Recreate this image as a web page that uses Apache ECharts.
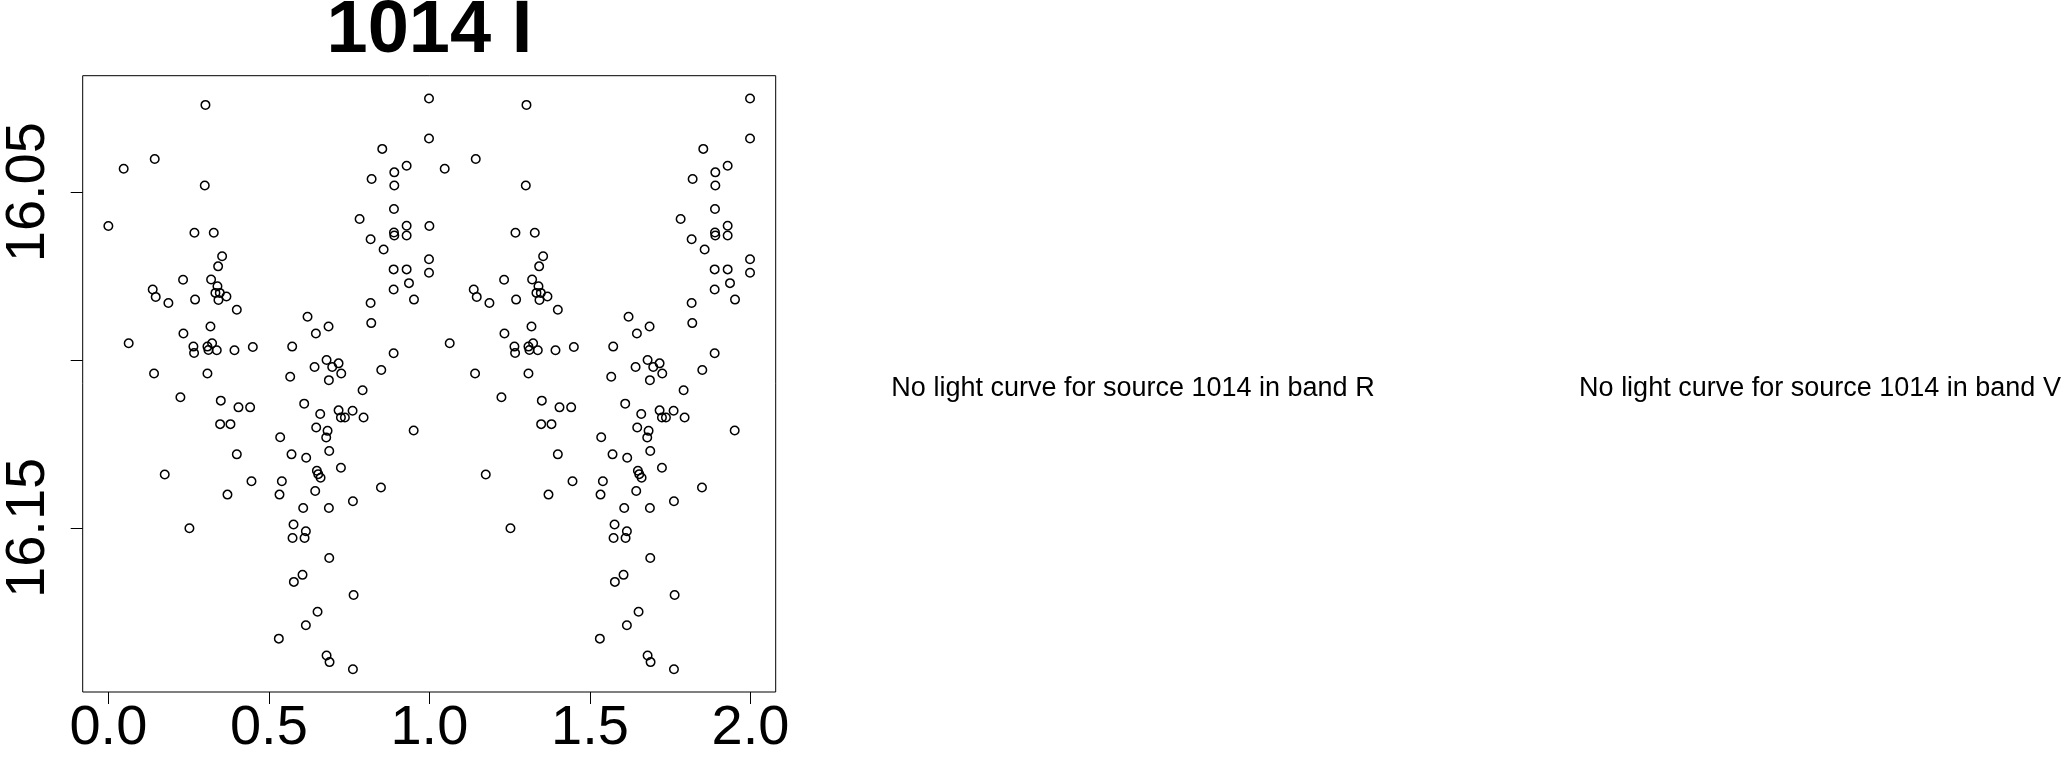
<!DOCTYPE html>
<html><head><meta charset="utf-8">
<script src="https://cdn.jsdelivr.net/npm/echarts@6/dist/echarts.min.js"></script>
<style>html,body{margin:0;padding:0;background:#fff}#c{width:2065px;height:757px}</style>
</head><body><div id="c"></div>
<script>
const titleText = '1014 I';
const noCurveR = 'No light curve for source 1014 in band R';
const noCurveV = 'No light curve for source 1014 in band V';

// phase (0..1) and magnitude of each observation; plotted at phase and phase+1
const phase = [
  0.3024, 0.1444, 0.0477, 0.3003, 0.0000, 0.2681, 0.3283, 0.3543, 0.3419, 0.2327,
  0.3200, 0.1381, 0.1475, 0.3398, 0.3335, 0.3471, 0.3678, 0.3429, 0.1870, 0.2701,
  0.4001, 0.3180, 0.2338, 0.0633, 0.2649, 0.3086, 0.3231, 0.2670, 0.3117, 0.3377,
  0.3928, 0.4500, 0.1423, 0.3086,
  0.2244, 0.3502, 0.4053, 0.4416, 0.3481, 0.3803, 0.4001, 0.1756, 0.4458, 0.3710, 0.2525,
  0.9988, 0.9988, 0.8532, 0.9291, 0.8907, 0.8200, 0.8907, 0.8896, 0.7826, 0.9291,
  0.8896, 0.8907, 0.9291, 0.8169, 0.8574, 0.9988, 0.8886, 0.9291, 0.9988, 0.9364,
  0.8886, 0.9520, 0.8169, 0.6204, 0.6859, 0.6464, 0.8189, 0.5726, 0.8886, 0.6797,
  0.6423, 0.6973, 0.7171, 0.7254, 0.5664, 0.8501, 0.6869, 0.7919,
  0.6100, 0.6599, 0.7171, 0.7607, 0.7244, 0.7368, 0.7950, 0.6474, 0.6828, 0.6786,
  0.5352, 0.9510, 0.6880, 0.5705, 0.6162, 0.7244, 0.6495, 0.6537, 0.6610, 0.5404,
  0.5331, 0.6443, 0.8491, 0.7618, 0.6069, 0.6869, 0.5768, 0.6152, 0.5737, 0.6111,
  0.6880, 0.6048, 0.5778, 0.7639, 0.6516, 0.6152, 0.5310, 0.6797, 0.6890, 0.7618
];
const mag = [
  16.0240, 16.0401, 16.0430, 16.0480, 16.0601, 16.0621, 16.0621, 16.0691, 16.0721, 16.0761,
  16.0760, 16.0790, 16.0812, 16.0780, 16.0800, 16.0800, 16.0811, 16.0821, 16.0830, 16.0820,
  16.0850, 16.0900, 16.0921, 16.0950, 16.0960, 16.0960, 16.0950, 16.0979, 16.0970, 16.0971,
  16.0971, 16.0961, 16.1040, 16.1040,
  16.1111, 16.1121, 16.1141, 16.1141, 16.1191, 16.1191, 16.1281, 16.1341, 16.1361, 16.1401, 16.1501,
  16.0221, 16.0340, 16.0371, 16.0421, 16.0441, 16.0461, 16.0480, 16.0550, 16.0580, 16.0600,
  16.0620, 16.0629, 16.0629, 16.0640, 16.0671, 16.0700, 16.0730, 16.0730, 16.0740, 16.0771,
  16.0790, 16.0820, 16.0830, 16.0871, 16.0900, 16.0921, 16.0890, 16.0960, 16.0980, 16.1000,
  16.1021, 16.1021, 16.1010, 16.1040, 16.1050, 16.1030, 16.1060, 16.1090,
  16.1130, 16.1161, 16.1150, 16.1151, 16.1171, 16.1171, 16.1171, 16.1201, 16.1211, 16.1231,
  16.1230, 16.1210, 16.1271, 16.1281, 16.1291, 16.1321, 16.1330, 16.1340, 16.1351, 16.1361,
  16.1401, 16.1390, 16.1380, 16.1421, 16.1441, 16.1441, 16.1490, 16.1510, 16.1530, 16.1530,
  16.1590, 16.1640, 16.1661, 16.1700, 16.1750, 16.1790, 16.1830, 16.1880, 16.1900, 16.1921
];

const xTicks = [0, 0.5, 1.0, 1.5, 2.0];
const yTicks = [16.05, 16.10, 16.15];
const yTickLabels = [16.05, 16.15];

// build folded points (phase and phase+1)
const points = [];
for (let i = 0; i < phase.length; i++) {
  points.push([phase[i], mag[i]]);
  points.push([phase[i] + 1, mag[i]]);
}
// R-style 4% axis extension
function ext(vals) {
  const lo = Math.min(...vals), hi = Math.max(...vals), d = (hi - lo) * 0.04;
  return [lo - d, hi + d];
}
const xr = ext(points.map(p => p[0]));
const yr = ext(mag);

const FONT = 'Liberation Sans, Arial, Helvetica, sans-serif';
const chart = echarts.init(document.getElementById('c'), null, {renderer: 'canvas'});
chart.setOption({
  animation: false,
  backgroundColor: '#fff',
  grid: {left: 82.7, right: 1289.3, top: 75.7, bottom: 57.7, show: true,
         borderColor: '#000', borderWidth: 1, backgroundColor: 'transparent', containLabel: false},
  xAxis: {
    type: 'value', min: xr[0], max: xr[1],
    axisLine: {show: false, onZero: false},
    splitLine: {show: false},
    axisTick: {show: true, inside: false, length: 12, customValues: xTicks, lineStyle: {color: '#000', width: 1}},
    axisLabel: {show: true, customValues: xTicks, margin: 9, fontSize: 56, color: '#000', fontFamily: FONT,
      formatter: v => Number(v).toFixed(1)}
  },
  yAxis: {
    type: 'value', inverse: true, min: yr[0], max: yr[1],
    axisLine: {show: false, onZero: false},
    splitLine: {show: false},
    axisTick: {show: true, inside: false, length: 12, customValues: yTicks, lineStyle: {color: '#000', width: 1}},
    axisLabel: {show: true, customValues: yTickLabels, rotate: 90, margin: 26, fontSize: 56, color: '#000', fontFamily: FONT,
      formatter: v => Number(v).toFixed(2)}
  },
  series: [{
    type: 'scatter', data: points, symbol: 'circle', symbolSize: 8.5, silent: true,
    itemStyle: {color: 'rgba(0,0,0,0)', borderColor: '#000', borderWidth: 1.5, opacity: 1}
  }],
  graphic: [
    {type: 'text', x: 429.4, y: 32, style: {text: titleText, font: 'bold 74px ' + FONT, fill: '#000', align: 'center', verticalAlign: 'middle'}},
    {type: 'text', x: 1133, y: 389, style: {text: noCurveR, font: '27px ' + FONT, fill: '#000', align: 'center', verticalAlign: 'middle'}},
    {type: 'text', x: 1820, y: 389, style: {text: noCurveV, font: '27px ' + FONT, fill: '#000', align: 'center', verticalAlign: 'middle'}}
  ]
});
</script>
</body></html>
